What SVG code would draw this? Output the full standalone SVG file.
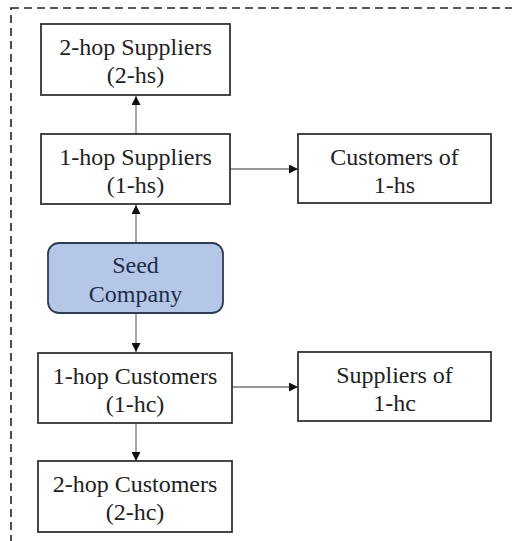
<svg xmlns="http://www.w3.org/2000/svg" width="512" height="541" viewBox="0 0 512 541">
<defs>
<marker id="ah" viewBox="0 0 10 10" refX="10" refY="5" markerWidth="9" markerHeight="9" markerUnits="userSpaceOnUse" orient="auto">
<path d="M0,0 L10,5 L0,10 z" fill="#111"/>
</marker>
</defs>
<rect x="11" y="8" width="520" height="560" fill="none" stroke="#222" stroke-width="1.6" stroke-dasharray="8,5"/>
<g id="connectors" stroke="#777" stroke-width="1.3" fill="none" marker-end="url(#ah)">
<line x1="136" y1="134" x2="136" y2="96"/>
<line x1="136" y1="243" x2="136" y2="205"/>
<line x1="230" y1="169" x2="298" y2="169"/>
<line x1="136" y1="313" x2="136" y2="352"/>
<line x1="232" y1="387" x2="298" y2="387"/>
<line x1="136" y1="423" x2="136" y2="461"/>
</g>
<g font-size="24" text-anchor="middle" fill="#222">
<g id="n2hs"><rect fill="#fff" stroke="#333" stroke-width="1.8" x="41" y="24" width="189" height="71"/><text style="font-family:'Liberation Serif',serif !important" x="135.5" y="55">2-hop Suppliers</text><text style="font-family:'Liberation Serif',serif !important" x="135.5" y="83">(2-hs)</text></g>
<g id="n1hs"><rect fill="#fff" stroke="#333" stroke-width="1.8" x="41" y="134" width="189" height="70"/><text style="font-family:'Liberation Serif',serif !important" x="135.5" y="165">1-hop Suppliers</text><text style="font-family:'Liberation Serif',serif !important" x="135.5" y="193">(1-hs)</text></g>
<g id="ncust1hs"><rect fill="#fff" stroke="#333" stroke-width="1.8" x="298" y="134" width="193" height="69"/><text style="font-family:'Liberation Serif',serif !important" x="394.5" y="165">Customers of</text><text style="font-family:'Liberation Serif',serif !important" x="394.5" y="193">1-hs</text></g>
<g id="nseed"><rect fill="#b4c7e7" stroke="#2f3b52" stroke-width="1.8" x="48" y="243" width="175" height="70" rx="11"/><text style="font-family:'Liberation Serif',serif !important" fill="#1f2d4a" x="135.5" y="273">Seed</text><text style="font-family:'Liberation Serif',serif !important" fill="#1f2d4a" x="135.5" y="302">Company</text></g>
<g id="n1hc"><rect fill="#fff" stroke="#333" stroke-width="1.8" x="38" y="353" width="194" height="70"/><text style="font-family:'Liberation Serif',serif !important" x="135" y="384">1-hop Customers</text><text style="font-family:'Liberation Serif',serif !important" x="135" y="412">(1-hc)</text></g>
<g id="nsupp1hc"><rect fill="#fff" stroke="#333" stroke-width="1.8" x="298" y="352" width="193" height="69"/><text style="font-family:'Liberation Serif',serif !important" x="394.5" y="383">Suppliers of</text><text style="font-family:'Liberation Serif',serif !important" x="394.5" y="411">1-hc</text></g>
<g id="n2hc"><rect fill="#fff" stroke="#333" stroke-width="1.8" x="38" y="461" width="194" height="71"/><text style="font-family:'Liberation Serif',serif !important" x="135" y="492">2-hop Customers</text><text style="font-family:'Liberation Serif',serif !important" x="135" y="520">(2-hc)</text></g>
</g>
</svg>
